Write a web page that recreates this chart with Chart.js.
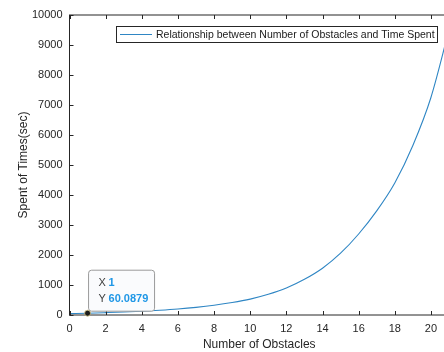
<!DOCTYPE html>
<html>
<head>
<meta charset="utf-8">
<script src="https://cdn.jsdelivr.net/npm/chart.js@4/dist/chart.umd.min.js"></script>
<style>
  html, body { margin: 0; padding: 0; background: #fff; overflow: hidden; width: 444px; height: 352px; }
  canvas { display: block; }
</style>
</head>
<body>
<canvas id="trend" width="449" height="352"></canvas>
<script>
// number of obstacles
var obstacles = [0, 1, 2, 3, 4, 5, 6, 7, 8, 9, 10, 11, 12, 13, 14, 15, 16, 17, 18, 19, 20, 21];
// spent time in seconds
var spentTime = [47, 60.0879, 78, 98, 124, 158, 200, 255, 325, 415, 530, 690, 900, 1190, 1560, 2060, 2700, 3470, 4400, 5650, 7250, 9500];
var seriesLabel = "Relationship between Number of Obstacles and Time Spent";
// tick values
var xTicks = [0, 2, 4, 6, 8, 10, 12, 14, 16, 18, 20];
var yTicks = [0, 1000, 2000, 3000, 4000, 5000, 6000, 7000, 8000, 9000, 10000];
// data tip
var tipX = 1;
var tipY = 60.0879;

var axisColor = "#262626";
var lineColor = "#2f86c4";
var fontFamily = "'Liberation Sans', Arial, sans-serif";

var points = obstacles.map(function (o, i) { return { x: o, y: spentTime[i] }; });

// box around the axes, ticks pointing inside on all four sides
var axesBox = {
    id: "axesBox",
    afterDraw: function (chart) {
        var c = chart.ctx, a = chart.chartArea;
        var xs = chart.scales.x, ys = chart.scales.y;
        c.save();
        c.strokeStyle = axisColor;
        c.lineWidth = 1;
        c.strokeRect(a.left, a.top, a.right - a.left, a.bottom - a.top);
        c.beginPath();
        xTicks.forEach(function (v) {
            var px = Math.round(xs.getPixelForValue(v)) + 0.5;
            c.moveTo(px, a.bottom); c.lineTo(px, a.bottom - 4);
            c.moveTo(px, a.top); c.lineTo(px, a.top + 4);
        });
        yTicks.forEach(function (v) {
            var py = Math.round(ys.getPixelForValue(v)) + 0.5;
            c.moveTo(a.left, py); c.lineTo(a.left + 4, py);
            c.moveTo(a.right, py); c.lineTo(a.right - 4, py);
        });
        c.stroke();
        c.restore();
    }
};

// MATLAB style legend box
var legendBox = {
    id: "legendBox",
    afterDraw: function (chart) {
        var c = chart.ctx;
        var x0 = 116, y0 = 26, w = 321, h = 16;
        c.save();
        c.fillStyle = "#fff";
        c.fillRect(x0, y0, w, h);
        c.strokeStyle = axisColor;
        c.lineWidth = 1;
        c.strokeRect(x0 + 0.5, y0 + 0.5, w, h);
        c.strokeStyle = lineColor;
        c.beginPath();
        c.moveTo(x0 + 4, y0 + 8.5);
        c.lineTo(x0 + 36, y0 + 8.5);
        c.stroke();
        c.fillStyle = "#1a1a1a";
        c.font = "10.5px " + fontFamily;
        c.textBaseline = "middle";
        c.fillText(chart.data.datasets[0].label, x0 + 40, y0 + 9);
        c.restore();
    }
};

// data tip at the selected point
var dataTip = {
    id: "dataTip",
    afterDraw: function (chart) {
        var c = chart.ctx;
        var px = chart.scales.x.getPixelForValue(tipX);
        var py = chart.scales.y.getPixelForValue(tipY);
        var bx = px + 1, by = py - 43, bw = 66, bh = 41, r = 3;
        c.save();
        c.beginPath();
        c.moveTo(bx + r, by);
        c.lineTo(bx + bw - r, by);
        c.quadraticCurveTo(bx + bw, by, bx + bw, by + r);
        c.lineTo(bx + bw, by + bh - r);
        c.quadraticCurveTo(bx + bw, by + bh, bx + bw - r, by + bh);
        c.lineTo(bx + r, by + bh);
        c.quadraticCurveTo(bx, by + bh, bx, by + bh - r);
        c.lineTo(bx, by + r);
        c.quadraticCurveTo(bx, by, bx + r, by);
        c.closePath();
        c.fillStyle = "rgba(250,251,253,0.95)";
        c.fill();
        c.strokeStyle = "#9a9a9a";
        c.lineWidth = 1;
        c.stroke();
        c.textBaseline = "middle";
        c.font = "11px " + fontFamily;
        c.fillStyle = "#404040";
        c.fillText("X", bx + 10, by + 13);
        c.fillText("Y", bx + 10, by + 29);
        c.font = "bold 11px " + fontFamily;
        c.fillStyle = "#1f97e6";
        c.fillText(String(tipX), bx + 20, by + 13);
        c.fillText(String(tipY), bx + 20, by + 29);
        c.beginPath();
        c.arc(px, py, 3, 0, Math.PI * 2);
        c.fillStyle = "#1c1c1c";
        c.fill();
        c.strokeStyle = "#d8c98a";
        c.lineWidth = 0.8;
        c.stroke();
        c.restore();
    }
};

var ctx = document.getElementById("trend");
var trendChart = new Chart(ctx, {
    type: "scatter",
    data: {
        datasets: [
            {
                label: seriesLabel,
                data: points,
                showLine: true,
                borderColor: lineColor,
                backgroundColor: lineColor,
                borderWidth: 1.1,
                pointRadius: 0,
                cubicInterpolationMode: "monotone"
            }
        ]
    },
    options: {
        responsive: false,
        animation: false,
        layout: { padding: { top: 15, right: 0, left: 0, bottom: 0 } },
        plugins: {
            legend: { display: false },
            tooltip: { enabled: false }
        },
        scales: {
            x: {
                type: "linear",
                min: 0,
                max: 21,
                afterBuildTicks: function (scale) {
                    scale.ticks = xTicks.map(function (v) { return { value: v }; });
                },
                afterFit: function (scale) {
                    scale.height = 37;
                    scale.paddingLeft = 0;
                    scale.paddingRight = 0;
                },
                grid: { display: false, drawTicks: false },
                border: { display: false },
                ticks: {
                    autoSkip: false,
                    padding: 7,
                    color: axisColor,
                    font: { family: fontFamily, size: 11 },
                    maxRotation: 0,
                    callback: function (v) { return String(v); }
                },
                title: {
                    display: true,
                    text: "Number of Obstacles",
                    color: axisColor,
                    padding: { top: 0, bottom: 0 },
                    font: { family: fontFamily, size: 12 }
                }
            },
            y: {
                min: 0,
                max: 10000,
                afterBuildTicks: function (scale) {
                    scale.ticks = yTicks.map(function (v) { return { value: v }; });
                },
                afterFit: function (scale) { scale.width = 69.5; },
                grid: { display: false, drawTicks: false },
                border: { display: false },
                ticks: {
                    autoSkip: false,
                    padding: 7,
                    color: axisColor,
                    font: { family: fontFamily, size: 11 },
                    callback: function (v) { return String(v); }
                },
                title: {
                    display: true,
                    text: "Spent of Times(sec)",
                    color: axisColor,
                    padding: { top: 16, bottom: 0 },
                    font: { family: fontFamily, size: 12 }
                }
            }
        }
    },
    plugins: [axesBox, legendBox, dataTip]
});
</script>
</body>
</html>
